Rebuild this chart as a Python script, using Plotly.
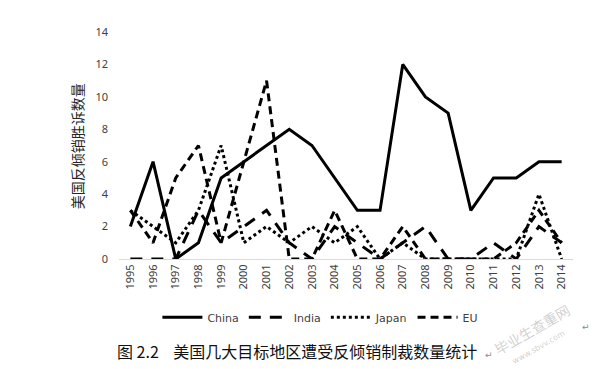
import plotly.graph_objects as go

years = [str(y) for y in range(1995, 2015)]
china = [2, 6, 0, 1, 5, 6, 7, 8, 7, 5, 3, 3, 12, 10, 9, 3, 5, 5, 6, 6]
india = [0, 0, 0, 3, 1, 2, 3, 1, 0, 2, 1, 0, 1, 2, 0, 0, 1, 0, 2, 1]
japan = [3, 2, 1, 3, 7, 1, 2, 1, 2, 1, 2, 0, 1, 0, 0, 0, 0, 0, 4, 0]
eu = [3, 1, 5, 7, 1, 6, 11, 0, 0, 3, 0, 0, 2, 0, 0, 0, 0, 1, 3, 1]

# page has an 8px body margin; lay the figure out in screenshot pixels
OFF = 8
W, H = 598, 369
ml, mr, mt, mb = 118.6, 25.4, 31.7, 109.5
FW, FH = W - OFF, H - OFF
pw, ph = W - ml - mr, H - mt - mb

def px(x):
    return (x - ml) / pw

def py(y):
    return (H - mb - y) / ph

fig = go.Figure()
series = [
    ("China", china, "solid"),
    ("India", india, "12px,9px"),
    ("Japan", japan, "dot"),
    ("EU", eu, "8px,5px"),
]
for name, vals, dash in series:
    fig.add_trace(go.Scatter(
        x=years, y=vals, name=name, mode="lines",
        line=dict(color="black", width=3, dash=dash),
    ))

fig.update_layout(
    width=FW, height=FH,
    margin=dict(l=ml - OFF, r=mr, t=mt - OFF, b=mb, autoexpand=False),
    paper_bgcolor="white", plot_bgcolor="white",
    font=dict(family="Noto Sans, DejaVu Sans", color="#404040", size=11),
    showlegend=True,
    legend=dict(
        orientation="h", x=px(320), y=py(318), xanchor="center", yanchor="middle",
        font=dict(size=11, color="#404040", family="DejaVu Sans"),
        itemwidth=40, tracegroupgap=0,
    ),
    xaxis=dict(
        type="category", range=[-0.5, 19.5], showgrid=False,
        showline=True, linecolor="#d9d9d9", linewidth=1,
        ticks="", tickangle=-90, tickfont=dict(size=11, color="#404040"),
        fixedrange=True, automargin=False,
    ),
    yaxis=dict(
        range=[0, 14], dtick=2, showgrid=False, zeroline=False,
        showline=False, ticks="", tickfont=dict(size=11, color="#404040"),
        ticklabelstandoff=10, automargin=False,
    ),
)

annotations = [
    dict(text="美国反倾销胜诉数量", x=px(76), y=py(146), xref="paper", yref="paper",
         textangle=-90, showarrow=False, xanchor="center", yanchor="middle",
         font=dict(family="Noto Sans CJK SC", size=14, color="#262626")),
    dict(text="图 2.2    美国几大目标地区遭受反倾销制裁数量统计", x=px(115), y=py(352),
         xref="paper", yref="paper", showarrow=False, xanchor="left", yanchor="middle",
         font=dict(family="Noto Sans CJK SC", size=16, color="#111111")),
    dict(text="↵", x=px(483), y=py(355), xref="paper", yref="paper", showarrow=False,
         xanchor="left", yanchor="middle", font=dict(size=9, color="#888888")),
    dict(text="↵", x=px(586), y=py(327), xref="paper", yref="paper", showarrow=False,
         xanchor="center", yanchor="middle", font=dict(size=9, color="#888888")),
    dict(text="毕业生查重网", x=px(532), y=py(330), xref="paper", yref="paper",
         showarrow=False, textangle=-30, xanchor="center", yanchor="middle",
         font=dict(family="Noto Sans CJK SC", size=14, color="rgba(150,150,150,0.45)")),
    dict(text="www.sbvv.com", x=px(538), y=py(348), xref="paper", yref="paper",
         showarrow=False, textangle=-30, xanchor="center", yanchor="middle",
         font=dict(family="DejaVu Sans", size=8, color="rgba(150,150,150,0.45)")),
]
fig.update_layout(annotations=annotations)

fig.write_html("out.html")
